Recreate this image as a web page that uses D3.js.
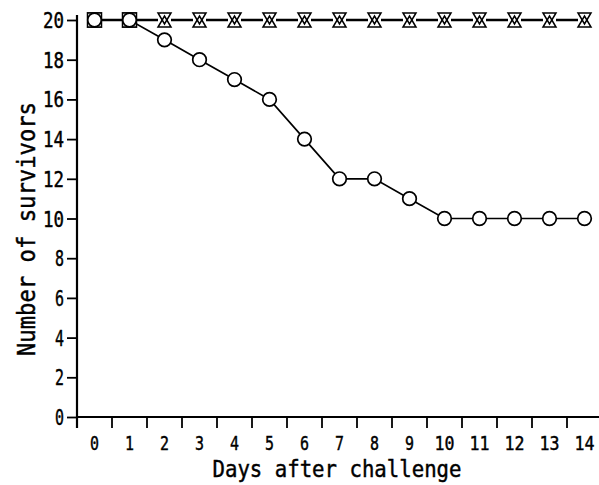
<!DOCTYPE html>
<html><head><meta charset="utf-8">
<script src="https://cdn.jsdelivr.net/npm/d3@7"></script>
<style>html,body{margin:0;padding:0;background:#fff;}svg{display:block;}</style>
</head><body>
<svg id="c" width="599" height="485"></svg>
<script>
const days = [0,1,2,3,4,5,6,7,8,9,10,11,12,13,14];
const circleSeries = [20,20,19,18,17,16,14,12,12,11,10,10,10,10,10];
const triangleSeries = [20,20,20,20,20,20,20,20,20,20,20,20,20,20,20];
const squareDays = [0,1];
const squareSeries = [20,20];
const yTicks = [0,2,4,6,8,10,12,14,16,18,20];
const xTitle = "Days after challenge";
const yTitle = "Number of survivors";

const svg = d3.select("#c");
const font = "'DejaVu Sans Mono', monospace";
const x = d3.scaleBand().domain(days).range([77, 602]).padding(0);
const y = d3.scaleLinear().domain([0,20]).range([417,20]);
const cx = d => x(d) + x.bandwidth()/2;

// axes lines
svg.append("line").attr("x1",77).attr("x2",599).attr("y1",y(0)).attr("y2",y(0)).attr("stroke","#000").attr("stroke-width",2.2);
svg.append("line").attr("x1",77).attr("x2",77).attr("y1",15).attr("y2",428).attr("stroke","#000").attr("stroke-width",2.2);

// y ticks
const yg = svg.append("g").attr("transform","translate(77,0)")
  .call(d3.axisLeft(y).tickValues(yTicks).tickSize(10).tickPadding(3).tickFormat(d3.format("d")));
yg.select(".domain").remove();
yg.selectAll(".tick line").attr("stroke","#000").attr("stroke-width",1.8);
yg.selectAll(".tick text").attr("font-family",font).attr("font-size",21).attr("fill","#000")
  .attr("stroke","#000").attr("stroke-width",0.45)
  .attr("dy","0.36em")
  .attr("textLength",function(d){return String(d).length>1?21:9;}).attr("lengthAdjust","spacingAndGlyphs");

// x ticks at band boundaries
const boundaries = days.map(d => x(d));
svg.append("g").selectAll("line").data(boundaries).join("line")
  .attr("x1",d=>d).attr("x2",d=>d).attr("y1",y(0)).attr("y2",428)
  .attr("stroke","#000").attr("stroke-width",1.8);
svg.append("g").selectAll("text").data(days).join("text")
  .attr("x",d=>cx(d)).attr("y",449.5).attr("text-anchor","middle")
  .attr("font-family",font).attr("font-size",20).attr("fill","#000")
  .attr("stroke","#000").attr("stroke-width",0.45)
  .attr("textLength",d=>String(d).length>1?20:9).attr("lengthAdjust","spacingAndGlyphs")
  .text(d=>d);

// titles
svg.append("text").attr("x",337).attr("y",476.5).attr("text-anchor","middle")
  .attr("font-family",font).attr("font-size",23.5).attr("fill","#000")
  .attr("stroke","#000").attr("stroke-width",0.45)
  .attr("textLength",249).attr("lengthAdjust","spacingAndGlyphs").text(xTitle);
svg.append("text").attr("transform","translate(35,229) rotate(-90)").attr("text-anchor","middle")
  .attr("font-family",font).attr("font-size",24).attr("fill","#000")
  .attr("stroke","#000").attr("stroke-width",0.45)
  .attr("textLength",254).attr("lengthAdjust","spacingAndGlyphs").text(yTitle);

// lines
const line = d3.line().x((v,i)=>cx(days[i])).y(v=>y(v));
svg.append("path").attr("d",line(triangleSeries)).attr("fill","none").attr("stroke","#000").attr("stroke-width",2.4);
svg.append("path").attr("d",line(circleSeries)).attr("fill","none").attr("stroke","#000").attr("stroke-width",1.7);

// triangle markers (down + up overlaid, hourglass-like)
const tg = svg.append("g");
days.forEach((d,i)=>{
  const g = tg.append("g").attr("transform",`translate(${cx(d)},${y(triangleSeries[i])})`);
  g.append("rect").attr("x",-6.5).attr("y",-7).attr("width",13).attr("height",14).attr("fill","#fff");
  g.append("path").attr("d","M-6.5,-7L6.5,-7L0,4Z").attr("fill","none").attr("stroke","#000").attr("stroke-width",1.5);
  g.append("path").attr("d","M-6.5,7L6.5,7L0,-4Z").attr("fill","none").attr("stroke","#000").attr("stroke-width",1.5);
});
// squares
svg.append("g").selectAll("rect").data(squareDays).join("rect")
  .attr("x",(d)=>cx(d)-7).attr("y",(d,i)=>y(squareSeries[i])-7).attr("width",14).attr("height",14)
  .attr("fill","#fff").attr("stroke","#000").attr("stroke-width",1.5);
// circles
svg.append("g").selectAll("circle").data(circleSeries).join("circle")
  .attr("cx",(v,i)=>cx(days[i])).attr("cy",v=>y(v)).attr("r",6.8)
  .attr("fill","#fff").attr("stroke","#000").attr("stroke-width",1.7);
</script>
</body></html>
